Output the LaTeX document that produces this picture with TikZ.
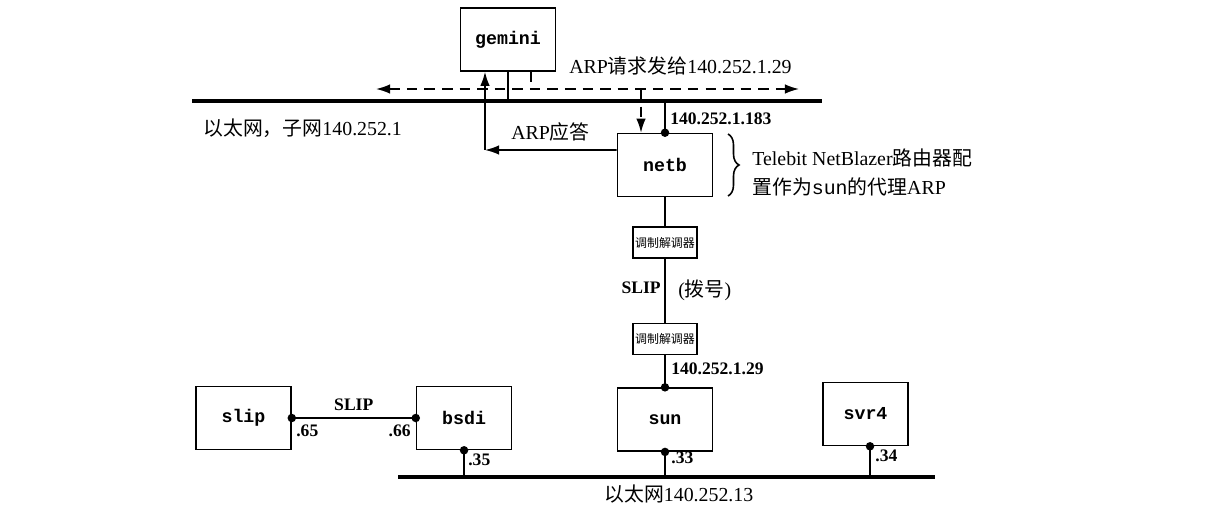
\documentclass[tikz,border=0pt]{standalone}
\usepackage{fontspec}
\setmainfont{Liberation Serif}
\setmonofont{Liberation Mono}
\newfontfamily\cjk{Noto Sans CJK SC}
\usepackage{tikz}
\usetikzlibrary{arrows.meta, positioning, decorations.pathreplacing}

\begin{document}
\begin{tikzpicture}[x=0.02cm, y=-0.02cm,
  host/.style={draw, line width=0.9pt, minimum width=1.9cm, minimum height=1.26cm,
    font=\ttfamily\bfseries\fontsize{10.4}{12}\selectfont},
  modem/.style={draw, line width=0.9pt, minimum width=1.28cm, minimum height=0.62cm,
    inner sep=1pt, font=\cjk\fontsize{6.8}{8}\selectfont},
  ether/.style={line width=2.6pt},
  wire/.style={line width=0.9pt},
  reqwire/.style={wire, dash pattern=on 6pt off 4pt},
  arr/.style={-{Latex[length=8pt,width=5.4pt]}},
  lbl/.style={font=\fontsize{11.3}{13}\selectfont, inner sep=0pt},
  addr/.style={font=\bfseries\fontsize{10}{12}\selectfont, inner sep=0pt},
]
\useasboundingbox (0,0) rectangle (1207,504);

%% Hosts
\node[host] (gemini) at (508,39.5) {gemini};
\node[host] (netb) at (665,165) {netb};
\node[modem] (modemA) at (665,242.5) {调制解调器};
\node[modem, below=1.28cm of modemA] (modemB) {调制解调器};
\node[host, below=0.64cm of modemB] (sun) {sun};
\node[host, minimum width=1.7cm] (svr4) at (865.5,414) {svr4};
\node[host] (slip) at (243.5,418) {slip};
\node[host, right=2.48cm of slip] (bsdi) {bsdi};

%% Ethernets
\coordinate (topL) at (192,101);
\coordinate (topR) at (822,101);
\coordinate (botL) at (398,477);
\coordinate (botR) at (935,477);
\draw[ether] (topL) -- (topR);
\draw[ether] (botL) -- (botR);
\node[lbl, anchor=west] (net1) at (203,128) {{\cjk 以太网，子网}140.252.1};
\node[lbl, anchor=west] (net13) at (604,494) {{\cjk 以太网}140.252.13};

%% ARP request / reply
\coordinate (reqL) at (376,89);
\coordinate (reqR) at (799,89);
\coordinate (gemTap) at ([xshift=0.46cm]gemini.south);
\coordinate (netbIn) at ([xshift=-0.48cm]netb.north);
\coordinate (corner) at (485,150);
\draw[wire] (gemini.south) -- (gemini.south |- topL);
\draw[reqwire] (gemTap) -- (gemTap |- reqL);
\draw[reqwire, {Latex[length=8pt,width=5.4pt]}-{Latex[length=8pt,width=5.4pt]}] (reqL) -- (reqR);
\draw[reqwire, arr] (netbIn |- reqL) -- (netbIn);
\node[lbl, anchor=west] (reqtxt) at (569,66) {ARP{\cjk 请求发给}140.252.1.29};
\draw[wire, arr] ([yshift=0.3cm]netb.west) -- (corner);
\draw[wire, arr] (corner) -- (corner |- gemini.south);
\node[lbl, anchor=west] (replytxt) at (511,132) {ARP{\cjk 应答}};

%% netb and the dial-up link
\draw[wire] (netb.north |- topL) -- (netb.north);
\node[addr, anchor=west] (a183) at (670,119) {140.252.1.183};
\draw[wire, decorate, decoration={brace, amplitude=0.22cm}] (728,134) -- (728,196);
\node[lbl, anchor=west, align=left, font=\fontsize{11.3}{16.5}\selectfont] (note) at (752,172)
  {Telebit NetBlazer{\cjk 路由器配}\\{\cjk 置作为}{\ttfamily sun}{\cjk 的代理}ARP};
\draw[wire] (netb.south) -- (modemA.north);
\draw[wire] (modemA.south) -- (modemB.north);
\draw[wire] (modemB.south) -- (sun.north);
\node[addr, anchor=east] (dialslip) at (661,288) {SLIP};
\node[lbl, anchor=west] (dial) at (678,290) {({\cjk 拨号})};
\node[addr, anchor=west] (a29) at (671,369) {140.252.1.29};

%% Lower hosts
\coordinate (svrTap) at ([xshift=0.09cm]svr4.south);
\draw[wire] (sun.south) -- (sun.south |- botL);
\draw[wire] (svrTap) -- (svrTap |- botL);
\draw[wire] (bsdi.south) -- (bsdi.south |- botL);
\draw[wire] (slip.east) -- (bsdi.west) node[addr, midway, above=0.14cm] (slipname) {SLIP};
\node[addr, anchor=west] (a33) at (671,458) {.33};
\node[addr, anchor=west] (a34) at (875,456) {.34};
\node[addr, anchor=west] (a35) at (468,460) {.35};
\node[addr, anchor=west] (a65) at (296,431) {.65};
\node[addr, anchor=east] (a66) at (411,431) {.66};

\foreach \p in {netb.north, sun.north, sun.south, svrTap, bsdi.south, slip.east, bsdi.west}
  \fill (\p) circle[radius=0.085cm];

\end{tikzpicture}
\end{document}
